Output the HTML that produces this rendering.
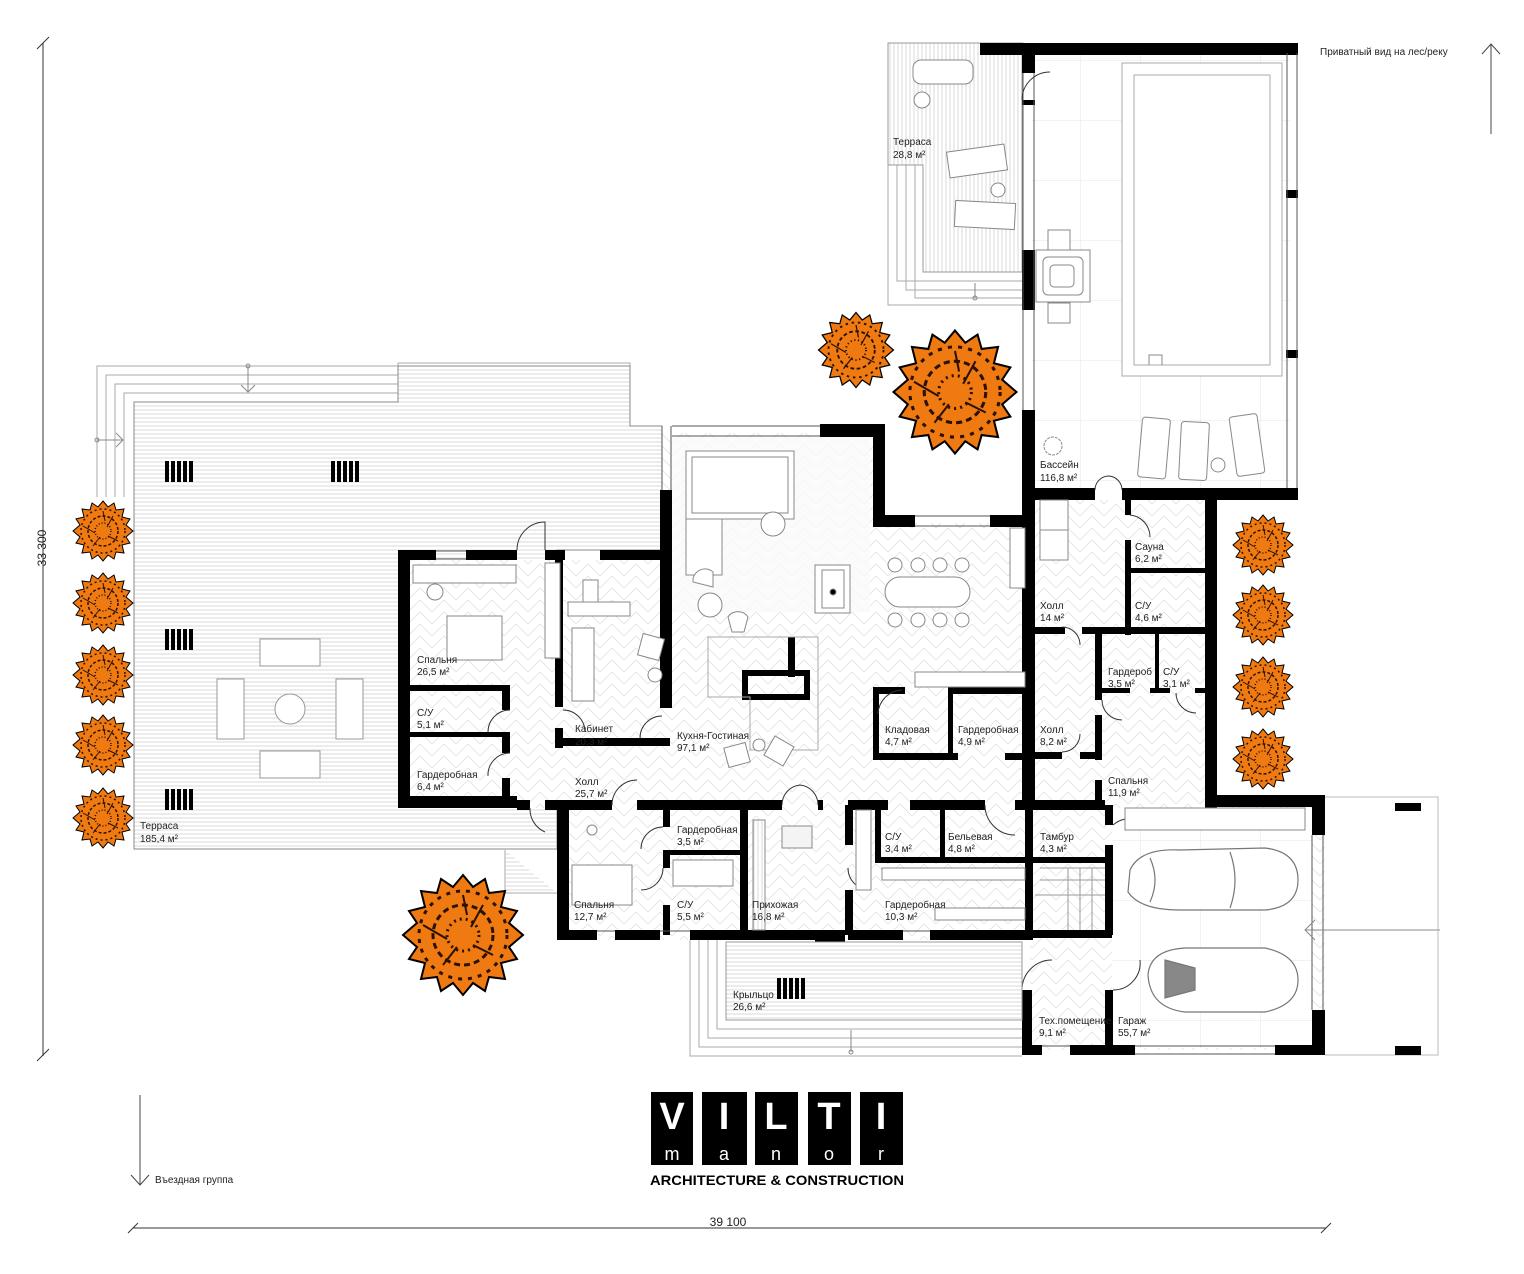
<!DOCTYPE html>
<html><head><meta charset="utf-8"><style>
html,body{margin:0;padding:0;background:#fff}
svg{display:block}
text{font-family:"Liberation Sans",sans-serif;font-size:10px;fill:#222}
</style></head><body>
<svg width="1524" height="1274" viewBox="0 0 1524 1274" xmlns="http://www.w3.org/2000/svg">
<defs>
<pattern id="deck" width="6" height="4" patternUnits="userSpaceOnUse"><rect width="6" height="4" fill="#fff"/><line x1="0" y1="2" x2="6" y2="2" stroke="#c9c9c9" stroke-width="0.7"/></pattern>
<pattern id="deckv" width="4" height="6" patternUnits="userSpaceOnUse"><rect width="4" height="6" fill="#fff"/><line x1="2" y1="0" x2="2" y2="6" stroke="#c9c9c9" stroke-width="0.7"/></pattern>
<pattern id="herr" width="24" height="24" patternUnits="userSpaceOnUse"><rect width="24" height="24" fill="#fff"/><path d="M0 12 L12 0 M12 0 L24 12 M0 24 L12 12 L24 24" stroke="#e2e2e2" stroke-width="0.8" fill="none"/></pattern>
<pattern id="tile" width="60" height="60" patternUnits="userSpaceOnUse"><rect width="60" height="60" fill="#fff"/><path d="M0 0H60M0 0V60" stroke="#e6e6e6" stroke-width="1"/></pattern>
<g id="vent"><rect x="0" y="0" width="4" height="21" fill="#000"/><rect x="6" y="0" width="4" height="21" fill="#000"/><rect x="12" y="0" width="4" height="21" fill="#000"/><rect x="18" y="0" width="4" height="21" fill="#000"/><rect x="24" y="0" width="4" height="21" fill="#000"/></g>
<g id="bush">
<polygon points="0,-30 5,-24 11,-28 13,-21 21,-22 19,-14 27,-12 23,-6 30,0 23,6 27,12 19,14 21,22 13,21 11,28 5,24 0,30 -5,24 -11,28 -13,21 -21,22 -19,14 -27,12 -23,6 -30,0 -23,-6 -27,-12 -19,-14 -21,-22 -13,-21 -11,-28 -5,-24" fill="#f07a12" stroke="#000" stroke-width="1"/>
<circle r="22" fill="none" stroke="#2a1100" stroke-width="1.5" stroke-dasharray="2 3"/>
<circle r="15" fill="none" stroke="#2a1100" stroke-width="1.5" stroke-dasharray="3 2"/>
<circle r="8" fill="none" stroke="#2a1100" stroke-width="1.5" stroke-dasharray="1 2"/>
<path d="M-20 -5 L-8 2 M10 -15 L4 -4 M15 10 L5 5 M-10 15 L-3 6 M0 -20 L2 -10" stroke="#2a1100" stroke-width="1"/>
</g>
</defs>

<!-- dimension lines -->
<line x1="43" y1="43" x2="43" y2="1056" stroke="#333" stroke-width="1"/>
<line x1="37" y1="49" x2="49" y2="37" stroke="#333"/><line x1="37" y1="1061" x2="49" y2="1049" stroke="#333"/>
<text x="46" y="548" transform="rotate(-90 46 548)" text-anchor="middle" style="font-size:12px">33 300</text>
<line x1="133" y1="1228" x2="1326" y2="1228" stroke="#333"/>
<line x1="128" y1="1233" x2="138" y2="1223" stroke="#333"/><line x1="1321" y1="1233" x2="1331" y2="1223" stroke="#333"/>
<text x="728" y="1226" text-anchor="middle" style="font-size:12px">39 100</text>
<line x1="1491" y1="44" x2="1491" y2="134" stroke="#444"/><path d="M1482 54 L1491 44 L1500 54" fill="none" stroke="#444"/>
<text x="1320" y="55">Приватный вид на лес/реку</text>
<line x1="140" y1="1095" x2="140" y2="1185" stroke="#444"/><path d="M131 1175 L140 1185 L149 1175" fill="none" stroke="#444"/>
<text x="155" y="1183">Въездная группа</text>

<!-- left terrace -->
<path d="M97 497 V366 H398 V363 H630 V426 H662" fill="none" stroke="#aaa"/>
<path d="M106 497 V375 H398 M115 497 V384 H398 M124 497 V393 H398" fill="none" stroke="#aaa"/>
<path d="M134 402 H398 V366 H630 V426 H662 V550 H557 V849 H134 Z" fill="url(#deck)" stroke="#888"/>
<path d="M505 850 V893 H557" fill="url(#deck)" stroke="#aaa"/>
<circle cx="248" cy="366" r="2" fill="none" stroke="#888"/><path d="M248 366 V392 M241 385 L248 392 L255 385" stroke="#888" fill="none"/>
<circle cx="97" cy="440" r="2" fill="none" stroke="#888"/><path d="M97 440 H123 M116 433 L123 440 L116 447" stroke="#888" fill="none"/>
<use href="#vent" x="165" y="461"/><use href="#vent" x="331" y="461"/><use href="#vent" x="165" y="629"/><use href="#vent" x="165" y="789"/>
<g fill="#fff" stroke="#999"><rect x="260" y="639" width="60" height="27"/><rect x="260" y="751" width="60" height="27"/><rect x="217" y="679" width="27" height="60"/><rect x="336" y="679" width="27" height="60"/><circle cx="290" cy="709" r="15"/></g>
<text x="140" y="829">Терраса</text><text x="140" y="842">185,4 м²</text>

<!-- top terrace -->
<rect x="888" y="43" width="135" height="262" fill="#fff" stroke="#aaa"/>
<path d="M888 165 H923 V272 H1022 M897 165 V281 H1022 M906 165 V290 H1022 M915 165 V298 H1022" fill="none" stroke="#aaa"/>
<path d="M888 43 H1022 V272 H923 V165 H888 Z" fill="url(#deckv)" stroke="#999"/>
<g fill="#fff" stroke="#888"><rect x="913" y="60" width="60" height="24" rx="8"/><circle cx="922" cy="100" r="8"/><rect x="948" y="148" width="58" height="26" transform="rotate(-8 977 161)"/><circle cx="998" cy="190" r="7"/><rect x="955" y="202" width="60" height="26" transform="rotate(3 985 215)"/></g>
<text x="893" y="145">Терраса</text><text x="893" y="158">28,8 м²</text>
<circle cx="975" cy="298" r="2" fill="none" stroke="#888"/><path d="M975 298 V283" stroke="#888"/>

<!-- floors -->
<rect x="1032" y="53" width="258" height="440" fill="url(#tile)"/>
<rect x="1122" y="63" width="160" height="313" fill="#fff" stroke="#aaa"/>
<rect x="1134" y="75" width="136" height="290" fill="#fff" stroke="#aaa"/>
<path d="M1149 365 V355 H1162 V365" fill="none" stroke="#888"/>
<g fill="#fff" stroke="#888"><rect x="1036" y="250" width="54" height="52"/><rect x="1043" y="257" width="40" height="38" rx="5"/><rect x="1050" y="265" width="24" height="22" rx="4"/><rect x="1048" y="230" width="22" height="20"/><rect x="1048" y="303" width="22" height="20"/>
<rect x="1140" y="418" width="28" height="60" rx="3" transform="rotate(5 1154 448)"/><rect x="1180" y="422" width="28" height="58" rx="3" transform="rotate(3 1194 451)"/><rect x="1233" y="415" width="28" height="60" rx="3" transform="rotate(-8 1247 445)"/><circle cx="1218" cy="465" r="7"/></g>
<circle cx="1053" cy="446" r="9" fill="#fff" stroke="#888" stroke-dasharray="3 1"/>
<text x="1040" y="468">Бассейн</text><text x="1040" y="481">116,8 м²</text>

<!-- building interior floors -->
<path d="M410 560 H662 V433 H877 V523 H1030 V500 H1205 V800 H1325 V1050 H1030 V940 H567 V808 H410 Z" fill="url(#herr)"/>
<rect x="1112" y="808" width="200" height="240" fill="url(#tile)"/>
<rect x="670" y="437" width="200" height="175" fill="#fafafa" opacity="0.8"/>

<!-- walls -->
<g fill="#000">
<rect x="398" y="550" width="12" height="258"/>
<rect x="398" y="550" width="38" height="10"/><rect x="466" y="550" width="51" height="10"/>
<rect x="545" y="550" width="20" height="10"/><rect x="600" y="550" width="62" height="10"/>
<rect x="398" y="796" width="119" height="12"/>
<rect x="410" y="685" width="100" height="6"/><rect x="410" y="732" width="100" height="5"/>
<rect x="502" y="690" width="8" height="20"/><rect x="502" y="733" width="8" height="20"/><rect x="502" y="778" width="8" height="30"/>
<rect x="555" y="555" width="8" height="152"/><rect x="555" y="728" width="8" height="20"/><rect x="555" y="738" width="115" height="8"/>
<rect x="660" y="490" width="12" height="218"/>
<rect x="820" y="424" width="65" height="13"/>
<rect x="873" y="424" width="12" height="103"/>
<rect x="873" y="515" width="42" height="12"/><rect x="990" y="515" width="42" height="12"/>
<rect x="1022" y="43" width="13" height="30"/><rect x="980" y="43" width="318" height="12"/>
<rect x="1022" y="100" width="13" height="5"/>
<rect x="1022" y="250" width="13" height="60"/>
<rect x="1022" y="410" width="13" height="398"/>
<rect x="1286" y="43" width="12" height="10"/>
<rect x="1035" y="488" width="60" height="12"/><rect x="1122" y="488" width="176" height="12"/>
<rect x="1286" y="190" width="12" height="8"/><rect x="1286" y="350" width="12" height="8"/>
<rect x="745" y="673" width="62" height="24" fill="none" stroke="#000" stroke-width="6"/>
<rect x="788" y="637" width="7" height="40"/>
<rect x="873" y="687" width="32" height="7"/><rect x="948" y="687" width="82" height="7"/>
<rect x="873" y="687" width="6" height="73"/><rect x="948" y="692" width="5" height="65"/>
<rect x="873" y="753" width="85" height="7"/><rect x="1005" y="753" width="25" height="7"/>
<rect x="1125" y="495" width="6" height="20"/><rect x="1125" y="540" width="6" height="95"/>
<rect x="1035" y="627" width="30" height="7"/><rect x="1082" y="627" width="133" height="7"/>
<rect x="1125" y="568" width="80" height="5"/>
<rect x="1095" y="630" width="7" height="70"/><rect x="1095" y="715" width="7" height="45"/><rect x="1095" y="780" width="7" height="28"/>
<rect x="1155" y="634" width="4" height="55"/><rect x="1102" y="688" width="28" height="5"/><rect x="1150" y="688" width="20" height="5"/><rect x="1195" y="688" width="10" height="5"/>
<rect x="1035" y="752" width="27" height="7"/><rect x="1080" y="752" width="22" height="7"/>
<rect x="1205" y="490" width="12" height="318"/>
<rect x="1205" y="795" width="120" height="12"/><rect x="1312" y="795" width="13" height="40"/><rect x="1312" y="1010" width="13" height="45"/>
<rect x="1022" y="1045" width="20" height="10"/><rect x="1070" y="1045" width="65" height="10"/><rect x="1275" y="1045" width="50" height="10"/>
<rect x="517" y="800" width="13" height="10"/><rect x="545" y="800" width="67" height="10"/><rect x="637" y="800" width="145" height="10"/><rect x="818" y="800" width="5" height="10"/><rect x="848" y="800" width="40" height="10"/><rect x="910" y="800" width="75" height="10"/><rect x="1015" y="800" width="90" height="10"/>
<rect x="557" y="800" width="12" height="140"/>
<rect x="557" y="930" width="40" height="10"/><rect x="615" y="930" width="45" height="10"/><rect x="690" y="930" width="125" height="10"/><rect x="815" y="930" width="30" height="12"/><rect x="848" y="930" width="55" height="10"/><rect x="930" y="930" width="100" height="10"/>
<rect x="663" y="805" width="7" height="22"/><rect x="663" y="850" width="7" height="18"/><rect x="663" y="905" width="7" height="30"/>
<rect x="663" y="850" width="80" height="5"/>
<rect x="740" y="805" width="8" height="130"/>
<rect x="845" y="805" width="8" height="40"/><rect x="845" y="890" width="8" height="45"/>
<rect x="875" y="805" width="6" height="55"/><rect x="940" y="805" width="5" height="55"/>
<rect x="875" y="857" width="155" height="6"/>
<rect x="1025" y="805" width="8" height="135"/>
<rect x="1033" y="857" width="78" height="6"/>
<rect x="1105" y="805" width="8" height="20"/><rect x="1105" y="845" width="8" height="90"/>
<rect x="1022" y="930" width="90" height="8"/><rect x="1022" y="990" width="10" height="65"/><rect x="1105" y="990" width="8" height="55"/>
</g>

<g stroke="#555" stroke-width="1" fill="none">
<path d="M662 426 V490 M671 426 V490 M672 426 H820 M672 436 H820"/>
<path d="M1023 73 V410 M1034 73 V410"/>
<path d="M1287 53 V488 M1297 53 V488"/>
<path d="M1312 835 V1010 M1323 835 V1010"/>
<path d="M436 551 H466 M436 559 H466 M915 516 H990 M915 526 H990"/>
<path d="M1042 1046 H1070 M1135 1046 H1275 M1135 1054 H1275"/>
<path d="M597 931 H615 M660 931 H690 M903 931 H930"/>
</g>

<g fill="none" stroke="#333" stroke-width="1">
<path d="M517 550 A28 28 0 0 1 545 522 V550"/>
<path d="M1022 100 A28 28 0 0 1 1050 72"/>
<path d="M1095 490 A14 14 0 0 1 1108 476 M1122 490 A14 14 0 0 0 1108 476"/>
<path d="M612 805 A25 25 0 0 1 637 780 M782 805 A20 20 0 0 1 800 785 M818 805 A20 20 0 0 0 800 785"/>
<path d="M530 808 A25 25 0 0 0 545 832 M985 805 A30 30 0 0 0 1015 835"/>
<path d="M663 827 A22 22 0 0 0 641 849 M663 868 A22 22 0 0 1 641 890 M848 868 A22 22 0 0 0 870 890"/>
<path d="M820 942 A27 27 0 0 0 847 969 V942"/>
<path d="M1022 990 A30 30 0 0 1 1052 960 M1113 990 A27 27 0 0 0 1140 960"/>
<path d="M1113 825 A25 25 0 0 1 1138 820"/>
<path d="M902 690 A25 25 0 0 0 878 714"/>
<path d="M510 710 A22 22 0 0 0 488 732 M510 753 A22 22 0 0 0 488 776"/>
<path d="M640 738 A22 22 0 0 1 662 716 M563 710 A22 22 0 0 1 585 732"/>
<path d="M1062 627 A18 18 0 0 1 1080 645 M1062 752 A18 18 0 0 0 1080 734"/>
<path d="M1130 515 A22 22 0 0 1 1150 537"/>
<path d="M1102 700 A20 20 0 0 0 1122 720 M1176 693 A20 20 0 0 0 1196 713"/>
</g>

<g fill="#fff" stroke="#888" stroke-width="1">
<rect x="686" y="451" width="108" height="68"/><rect x="692" y="457" width="96" height="56"/>
<rect x="686" y="519" width="36" height="56"/><circle cx="773" cy="524" r="12"/>
<rect x="815" y="565" width="35" height="48"/><rect x="822" y="570" width="22" height="38"/><circle cx="833" cy="592" r="3" fill="#000"/>
<rect x="885" y="577" width="85" height="30" rx="15"/>
<g><circle cx="895" cy="565" r="7"/><circle cx="918" cy="565" r="7"/><circle cx="940" cy="565" r="7"/><circle cx="962" cy="565" r="7"/><circle cx="895" cy="620" r="7"/><circle cx="918" cy="620" r="7"/><circle cx="940" cy="620" r="7"/><circle cx="962" cy="620" r="7"/></g>
<rect x="1010" y="528" width="15" height="60"/><rect x="915" y="672" width="110" height="15"/>
<circle cx="710" cy="605" r="12"/><path d="M693 582 a12 12 0 0 1 20 -10 l0 15 z"/><path d="M728 617 a12 12 0 0 1 20 0 l-4 15 h-12 z"/>
<path d="M708 637 H818 V750 H750 V697 H708 Z" fill="none" stroke="#aaa"/>
<rect x="726" y="745" width="22" height="20" transform="rotate(-15 737 755)"/><rect x="768" y="740" width="22" height="22" transform="rotate(30 779 751)"/><circle cx="759" cy="745" r="6"/>
<rect x="447" y="616" width="55" height="44"/><rect x="413" y="565" width="103" height="18"/><circle cx="435" cy="592" r="8"/>
<rect x="583" y="580" width="15" height="22"/><rect x="568" y="602" width="62" height="14"/><rect x="572" y="628" width="22" height="73"/><rect x="640" y="636" width="22" height="22" transform="rotate(15 651 647)"/><circle cx="655" cy="675" r="7"/>
<rect x="545" y="563" width="15" height="95"/>
<rect x="572" y="865" width="60" height="40"/><circle cx="592" cy="830" r="5"/>
<rect x="673" y="860" width="60" height="26"/><rect x="753" y="820" width="12" height="110" fill="url(#deckv)"/>
<rect x="782" y="826" width="30" height="22" fill="#f4f4f4"/>
<rect x="856" y="810" width="15" height="80"/>
<rect x="882" y="868" width="143" height="12"/><rect x="935" y="908" width="90" height="12"/>
<rect x="1040" y="500" width="28" height="30"/><rect x="1040" y="530" width="28" height="30"/>
<rect x="1125" y="808" width="180" height="22"/>
</g>

<g fill="#fff" stroke="#777" stroke-width="1.2">
<path d="M1130 870 Q1140 848 1180 850 L1265 848 Q1298 852 1298 880 Q1298 907 1265 910 L1180 910 Q1140 910 1128 892 Z"/>
<path d="M1150 858 Q1160 880 1150 902 M1230 852 Q1240 880 1230 908" fill="none"/>
<path d="M1148 975 Q1150 950 1185 948 L1265 948 Q1298 955 1298 980 Q1298 1005 1265 1012 L1185 1012 Q1150 1008 1148 975 Z"/>
<path d="M1165 960 L1195 968 L1195 990 L1165 998 Z" fill="#888"/>
</g>
<path d="M1305 930 H1440 M1315 920 L1305 930 L1315 940" stroke="#888" fill="none"/>
<path d="M1325 797 H1438 V1055 H1325" fill="none" stroke="#bbb"/>
<rect x="1395" y="803" width="26" height="8" fill="#000"/><rect x="1395" y="1046" width="26" height="9" fill="#000"/>

<g stroke="#999" fill="none"><path d="M1040 868 H1105 M1040 880 H1105 M1068 868 V930 M1080 868 V930 M1092 868 V930 M1035 895 H1105"/></g>

<path d="M690 940 V1056 H1022 M699 940 V1047 H1022 M708 940 V1038 H1022 M717 940 V1029 H1022" fill="none" stroke="#aaa"/>
<path d="M726 942 H1022 V1020 H726 Z" fill="url(#deck)" stroke="#999"/>
<use href="#vent" x="777" y="978"/>
<circle cx="851" cy="1052" r="2" fill="none" stroke="#888"/><path d="M851 1052 V1030" stroke="#888"/>

<use href="#bush" x="103" y="531"/><use href="#bush" x="103" y="603"/><use href="#bush" x="103" y="675"/><use href="#bush" x="103" y="745"/><use href="#bush" x="103" y="818"/>
<use href="#bush" x="1263" y="545"/><use href="#bush" x="1263" y="615"/><use href="#bush" x="1263" y="687"/><use href="#bush" x="1263" y="759"/>
<g transform="translate(856 350) scale(1.25)"><use href="#bush"/></g>
<g transform="translate(955 392) scale(2.05)"><use href="#bush"/></g>
<g transform="translate(463 935) scale(2.0)"><use href="#bush"/></g>

<g>
<text x="417" y="663">Спальня</text><text x="417" y="675">26,5 м²</text>
<text x="417" y="716">С/У</text><text x="417" y="728">5,1 м²</text>
<text x="417" y="778">Гардеробная</text><text x="417" y="790">6,4 м²</text>
<text x="575" y="732">Кабинет</text><text x="575" y="745">20,3 м²</text>
<text x="677" y="739">Кухня-Гостиная</text><text x="677" y="751">97,1 м²</text>
<text x="575" y="785">Холл</text><text x="575" y="797">25,7 м²</text>
<text x="885" y="733">Кладовая</text><text x="885" y="745">4,7 м²</text>
<text x="958" y="733">Гардеробная</text><text x="958" y="745">4,9 м²</text>
<text x="1040" y="609">Холл</text><text x="1040" y="621">14 м²</text>
<text x="1135" y="550">Сауна</text><text x="1135" y="562">6,2 м²</text>
<text x="1135" y="609">С/У</text><text x="1135" y="621">4,6 м²</text>
<text x="1108" y="675">Гардероб</text><text x="1108" y="687">3,5 м²</text>
<text x="1163" y="675">С/У</text><text x="1163" y="687">3,1 м²</text>
<text x="1040" y="733">Холл</text><text x="1040" y="745">8,2 м²</text>
<text x="1108" y="784">Спальня</text><text x="1108" y="796">11,9 м²</text>
<text x="677" y="833">Гардеробная</text><text x="677" y="845">3,5 м²</text>
<text x="885" y="840">С/У</text><text x="885" y="852">3,4 м²</text>
<text x="948" y="840">Бельевая</text><text x="948" y="852">4,8 м²</text>
<text x="1040" y="840">Тамбур</text><text x="1040" y="852">4,3 м²</text>
<text x="574" y="908">Спальня</text><text x="574" y="920">12,7 м²</text>
<text x="677" y="908">С/У</text><text x="677" y="920">5,5 м²</text>
<text x="752" y="908">Прихожая</text><text x="752" y="920">16,8 м²</text>
<text x="885" y="908">Гардеробная</text><text x="885" y="920">10,3 м²</text>
<text x="733" y="998">Крыльцо</text><text x="733" y="1010">26,6 м²</text>
<text x="1039" y="1024">Тех.помещение</text><text x="1039" y="1036">9,1 м²</text>
<text x="1118" y="1024">Гараж</text><text x="1118" y="1036">55,7 м²</text>
</g>

<g fill="#000"><rect x="651" y="1092" width="42" height="73"/><rect x="702" y="1092" width="45" height="73"/><rect x="755" y="1092" width="43" height="73"/><rect x="808" y="1092" width="43" height="73"/><rect x="860" y="1092" width="43" height="73"/></g>
<g text-anchor="middle">
<text x="672" y="1129" style="fill:#fff;font-size:38px;font-weight:bold">V</text>
<text x="724" y="1129" style="fill:#fff;font-size:38px;font-weight:bold">I</text>
<text x="776" y="1129" style="fill:#fff;font-size:38px;font-weight:bold">L</text>
<text x="829" y="1129" style="fill:#fff;font-size:38px;font-weight:bold">T</text>
<text x="881" y="1129" style="fill:#fff;font-size:38px;font-weight:bold">I</text>
<text x="672" y="1160" style="fill:#fff;font-size:18px">m</text>
<text x="724" y="1160" style="fill:#fff;font-size:18px">a</text>
<text x="776" y="1160" style="fill:#fff;font-size:18px">n</text>
<text x="829" y="1160" style="fill:#fff;font-size:18px">o</text>
<text x="881" y="1160" style="fill:#fff;font-size:18px">r</text>
</g>
<text x="777" y="1185" text-anchor="middle" textLength="254" lengthAdjust="spacingAndGlyphs" style="font-weight:bold;font-size:14px;fill:#000">ARCHITECTURE &amp; CONSTRUCTION</text>
</svg>
</body></html>
